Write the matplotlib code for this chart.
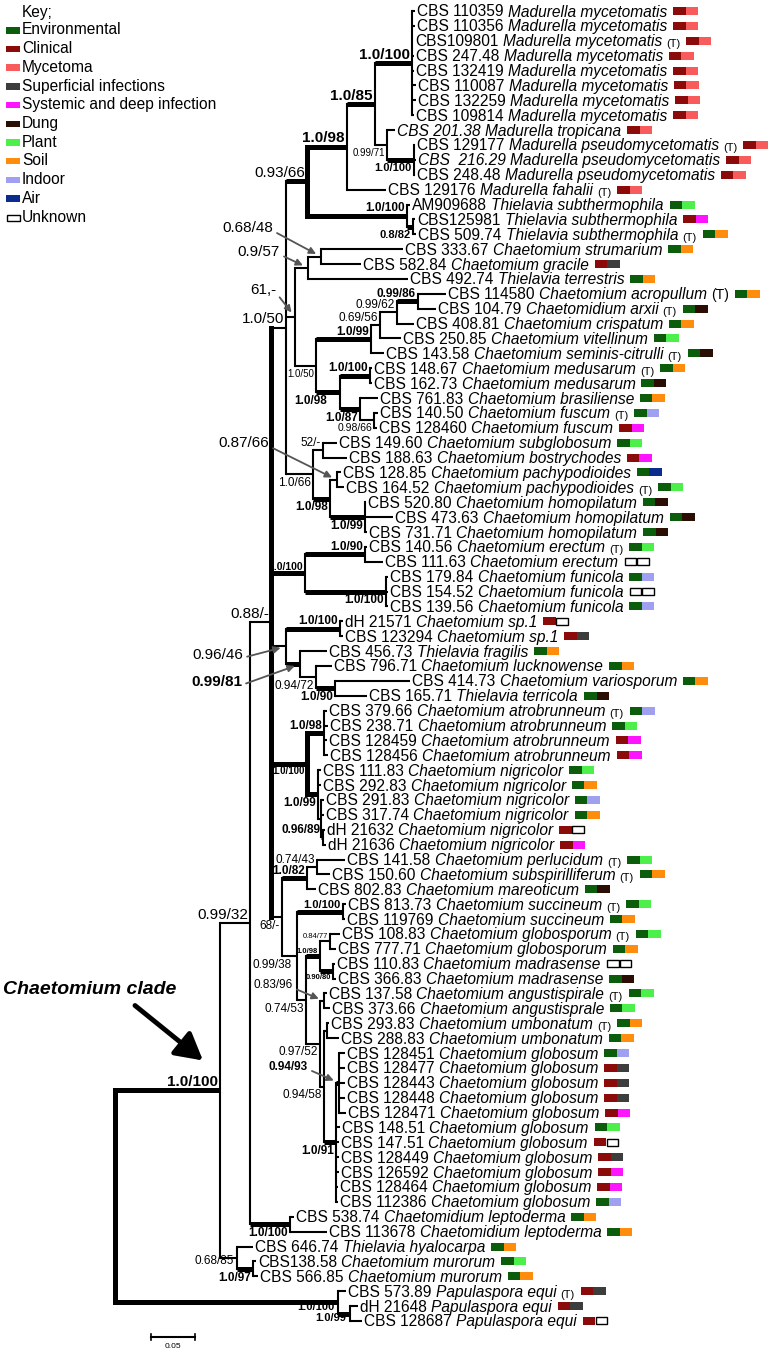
import matplotlib
matplotlib.use('Agg')
import matplotlib.pyplot as plt
from matplotlib.patches import Rectangle

plt.rcParams['font.family'] = ['Liberation Sans', 'DejaVu Sans']

W, H, DPI = 777, 1352, 100

# ------------------------------------------------------------------ DATA
# internal clades (name, parent, branch length in subst./site, support, strong support)
clade_name = ['R', 'Chaet', 'N9932', 'N088', 'N150', 'N9366', 'Mad', 'N185', 'Myc', 'N9971', 'Pseudo',
              'Tsub', 'N882', 'N61', 'N957', 'N6848', 'N150s', 'N199', 'N6956', 'N9962', 'N9986',
              'N198b', 'N1100m', 'N187', 'N9866', 'N166', 'N52', 'N198c', 'Npachy', 'N199h',
              'N1100ef', 'N190', 'N1100f', 'N9646', 'N1100sp', 'N9981', 'N9472', 'N190t',
              'N1100an', 'N198a', 'N199n', 'Nnsub', 'N9689', 'N68', 'N182', 'N7443', 'N9938',
              'N1100s', 'N7453', 'N198g', 'N8477', 'N9080', 'N9752', 'N8396', 'N9458', 'Numb',
              'N191', 'N9493', 'N1100l', 'N6885', 'N197', 'Pap', 'N199p']
clade_parent = [None, 'R', 'Chaet', 'N9932', 'N088', 'N150', 'N9366', 'Mad', 'N185', 'N185', 'N9971',
                'N9366', 'Tsub', 'N150', 'N61', 'N957', 'N61', 'N150s', 'N199', 'N6956', 'N9962',
                'N150s', 'N198b', 'N198b', 'N187', 'N150', 'N166', 'N166', 'N198c', 'N198c',
                'N088', 'N1100ef', 'N1100ef', 'N088', 'N9646', 'N9646', 'N9981', 'N9472',
                'N088', 'N1100an', 'N1100an', 'N199n', 'Nnsub', 'N088', 'N68', 'N182', 'N68',
                'N9938', 'N9938', 'N7453', 'N198g', 'N198g', 'N7453', 'N9752', 'N9752', 'N9458',
                'N9458', 'N191', 'N9932', 'Chaet', 'N6885', 'R', 'Pap']
clade_length = [0.0, 0.1193, 0.0341, 0.0239, 0.0170, 0.0239, 0.0455, 0.0318, 0.0420, 0.0136, 0.0307,
                0.1136, 0.0068, 0.0102, 0.0148, 0.0148, 0.0239, 0.0625, 0.0102, 0.0193, 0.0239,
                0.0273, 0.0341, 0.0227, 0.0159, 0.0307, 0.0114, 0.0193, 0.0080, 0.0398,
                0.0386, 0.0682, 0.0920, 0.0170, 0.0614, 0.0159, 0.0182, 0.0216,
                0.0409, 0.0193, 0.0125, 0.0034, 0.0023, 0.0125, 0.0284, 0.0114, 0.0170,
                0.0523, 0.0102, 0.0159, 0.0114, 0.0148, 0.0159, 0.0045, 0.0045, 0.0034,
                0.0136, 0.0034, 0.0455, 0.0193, 0.0182, 0.2534, 0.0136]
clade_support = ['', '1.0/100', '0.99/32', '0.88/-', '1.0/50', '0.93/66', '1.0/98', '1.0/85', '1.0/100',
                 '0.99/71', '1.0/100', '1.0/100', '0.8/82', '61,-', '0.9/57', '0.68/48', '1.0/50',
                 '1.0/99', '0.69/56', '0.99/62', '0.99/86', '1.0/98', '1.0/100', '1.0/87', '0.98/66',
                 '1.0/66', '52/-', '1.0/98', '0.87/66', '1.0/99', '1.0/100', '1.0/90', '1.0/100',
                 '0.96/46', '1.0/100', '0.99/81', '0.94/72', '1.0/90', '1.0/100', '1.0/98', '1.0/99',
                 '', '0.96/89', '68/-', '1.0/82', '0.74/43', '0.99/38', '1.0/100', '0.74/53',
                 '1.0/98', '0.84/77', '0.90/80', '0.97/52', '0.83/96', '0.94/58', '', '1.0/91',
                 '0.94/93', '1.0/100', '0.68/85', '1.0/97', '1.0/100', '1.0/99']
clade_strong = [0, 1, 0, 0, 0, 0, 1, 1, 1, 0, 1, 1, 1, 0, 0, 0, 0, 1, 0, 0, 1, 1, 1, 1, 0, 0, 0, 1, 0, 1,
                1, 1, 1, 0, 1, 1, 0, 1, 1, 1, 1, 0, 1, 0, 1, 0, 0, 1, 0, 1, 0, 1, 0, 0, 0, 0, 1, 1,
                1, 0, 1, 1, 1]

# leaves, top to bottom
leaf_strain = ['CBS 110359', 'CBS 110356', 'CBS109801', 'CBS 247.48', 'CBS 132419', 'CBS 110087',
               'CBS 132259', 'CBS 109814', 'CBS 201.38', 'CBS 129177', 'CBS  216.29', 'CBS 248.48',
               'CBS 129176', 'AM909688', 'CBS125981', 'CBS 509.74', 'CBS 333.67', 'CBS 582.84',
               'CBS 492.74', 'CBS 114580', 'CBS 104.79', 'CBS 408.81', 'CBS 250.85', 'CBS 143.58',
               'CBS 148.67', 'CBS 162.73', 'CBS 761.83', 'CBS 140.50', 'CBS 128460', 'CBS 149.60',
               'CBS 188.63', 'CBS 128.85', 'CBS 164.52', 'CBS 520.80', 'CBS 473.63', 'CBS 731.71',
               'CBS 140.56', 'CBS 111.63', 'CBS 179.84', 'CBS 154.52', 'CBS 139.56', 'dH 21571',
               'CBS 123294', 'CBS 456.73', 'CBS 796.71', 'CBS 414.73', 'CBS 165.71', 'CBS 379.66',
               'CBS 238.71', 'CBS 128459', 'CBS 128456', 'CBS 111.83', 'CBS 292.83', 'CBS 291.83',
               'CBS 317.74', 'dH 21632', 'dH 21636', 'CBS 141.58', 'CBS 150.60', 'CBS 802.83',
               'CBS 813.73', 'CBS 119769', 'CBS 108.83', 'CBS 777.71', 'CBS 110.83', 'CBS 366.83',
               'CBS 137.58', 'CBS 373.66', 'CBS 293.83', 'CBS 288.83', 'CBS 128451', 'CBS 128477',
               'CBS 128443', 'CBS 128448', 'CBS 128471', 'CBS 148.51', 'CBS 147.51', 'CBS 128449',
               'CBS 126592', 'CBS 128464', 'CBS 112386', 'CBS 538.74', 'CBS 113678', 'CBS 646.74',
               'CBS138.58', 'CBS 566.85', 'CBS 573.89', 'dH 21648', 'CBS 128687']
_mm, _mp, _ts = 'Madurella mycetomatis', 'Madurella pseudomycetomatis', 'Thielavia subthermophila'
_cg = 'Chaetomium globosum'
leaf_species = [_mm] * 8 + ['Madurella tropicana', _mp, _mp, _mp, 'Madurella fahalii', _ts, _ts, _ts,
                'Chaetomium strumarium', 'Chaetomium gracile', 'Thielavia terrestris',
                'Chaetomium acropullum', 'Chaetomidium arxii', 'Chaetomium crispatum',
                'Chaetomium vitellinum', 'Chaetomium seminis-citrulli', 'Chaetomium medusarum',
                'Chaetomium medusarum', 'Chaetomium brasiliense', 'Chaetomium fuscum',
                'Chaetomium fuscum', 'Chaetomium subglobosum', 'Chaetomium bostrychodes',
                'Chaetomium pachypodioides', 'Chaetomium pachypodioides'] + \
               ['Chaetomium homopilatum'] * 3 + ['Chaetomium erectum'] * 2 + ['Chaetomium funicola'] * 3 + \
               ['Chaetomium sp.1', 'Chaetomium sp.1', 'Thielavia fragilis', 'Chaetomium lucknowense',
                'Chaetomium variosporum', 'Thielavia terricola'] + ['Chaetomium atrobrunneum'] * 4 + \
               ['Chaetomium nigricolor'] * 6 + \
               ['Chaetomium perlucidum', 'Chaetomium subspirilliferum', 'Chaetomium mareoticum',
                'Chaetomium succineum', 'Chaetomium succineum', 'Chaetomium globosporum',
                'Chaetomium globosporum', 'Chaetomium madrasense', 'Chaetomium madrasense',
                'Chaetomium angustispirale', 'Chaetomium angustisprale', 'Chaetomium umbonatum',
                'Chaetomium umbonatum'] + [_cg] * 11 + \
               ['Chaetomidium leptoderma', 'Chaetomidium leptoderma', 'Thielavia hyalocarpa',
                'Chaetomium murorum', 'Chaetomium murorum'] + ['Papulaspora equi'] * 3
leaf_type_strain = [3, 10, 13, 16, 20, 21, 24, 25, 28, 33, 37, 48, 58, 59, 61, 63, 67, 69, 87]  # 1-based rows
leaf_parent = ['Myc'] * 8 + ['N9971', 'Pseudo', 'Pseudo', 'Pseudo', 'Mad', 'Tsub', 'N882', 'N882',
               'N6848', 'N6848', 'N957', 'N9986', 'N9986', 'N9962', 'N6956', 'N199', 'N1100m',
               'N1100m', 'N187', 'N9866', 'N9866', 'N52', 'N52', 'Npachy', 'Npachy', 'N199h',
               'N199h', 'N199h', 'N190', 'N190', 'N1100f', 'N1100f', 'N1100f', 'N1100sp',
               'N1100sp', 'N9981', 'N9472', 'N190t', 'N190t', 'N198a', 'N198a', 'N198a', 'N198a',
               'N199n', 'N199n', 'Nnsub', 'Nnsub', 'N9689', 'N9689', 'N7443', 'N7443', 'N182',
               'N1100s', 'N1100s', 'N8477', 'N8477', 'N9080', 'N9080', 'N8396', 'N8396', 'Numb',
               'Numb'] + ['N9493'] * 5 + ['N191'] * 6 + \
              ['N1100l', 'N1100l', 'N6885', 'N197', 'N197', 'Pap', 'N199p', 'N199p']
leaf_length = [0.0034, 0.0034, 0.0011, 0.0023, 0.0023, 0.0045, 0.0045, 0.0023, 0.0091, 0.0011,
               0.0023, 0.0011, 0.0443, 0.0034, 0.0023, 0.0034, 0.0932, 0.0455, 0.1136, 0.0318,
               0.0205, 0.0193, 0.0239, 0.0148, 0.0023, 0.0023, 0.0205, 0.0045, 0.0034, 0.0159,
               0.0273, 0.0045, 0.0080, 0.0011, 0.0318, 0.0023, 0.0023, 0.0205, 0.0023, 0.0023,
               0.0023, 0.0034, 0.0034, 0.0307, 0.0182, 0.0852, 0.0364, 0.0034, 0.0045, 0.0034,
               0.0045, 0.0034, 0.0034, 0.0034, 0.0034, 0.0023, 0.0034, 0.0318, 0.0148, 0.0102,
               0.0034, 0.0023, 0.0114, 0.0068, 0.0023, 0.0034, 0.0034, 0.0068, 0.0023, 0.0136,
               0.0068, 0.0068, 0.0068, 0.0068, 0.0080, 0.0045, 0.0034, 0.0034, 0.0034, 0.0023,
               0.0023, 0.0045, 0.0420, 0.0182, 0.0034, 0.0057, 0.0091, 0.0091, 0.0136]
leaf_source_a = ['C'] * 13 + ['E', 'C', 'E', 'E', 'C', 'E', 'E', 'E', 'E', 'E', 'E', 'E', 'E', 'E',
                 'E', 'C', 'E', 'C', 'E', 'E', 'E', 'E', 'E', 'E', 'U', 'E', 'U', 'E', 'C', 'C',
                 'E', 'E', 'E', 'E', 'E', 'E', 'C', 'C', 'E', 'E', 'E', 'E', 'C', 'C', 'E', 'E',
                 'E', 'E', 'E', 'E', 'E', 'U', 'E', 'E', 'E', 'E', 'E', 'E', 'C', 'C', 'C', 'C',
                 'E', 'C', 'C', 'C', 'C', 'E', 'E', 'E', 'E', 'E', 'E', 'C', 'C', 'C']
leaf_source_b = ['M'] * 13 + ['P', 'SD', 'So', 'So', 'S', 'So', 'So', 'D', 'So', 'P', 'D', 'So',
                 'D', 'So', 'I', 'SD', 'P', 'SD', 'A', 'P', 'D', 'D', 'D', 'P', 'U', 'I', 'U', 'I',
                 'U', 'S', 'So', 'So', 'So', 'D', 'I', 'P', 'SD', 'SD', 'P', 'So', 'I', 'So', 'U',
                 'SD', 'P', 'So', 'D', 'P', 'So', 'P', 'So', 'U', 'D', 'P', 'P', 'So', 'So', 'I',
                 'S', 'S', 'S', 'SD', 'P', 'U', 'S', 'SD', 'SD', 'I', 'So', 'So', 'So', 'P', 'So',
                 'S', 'S', 'U']

source_code = ['E', 'C', 'M', 'S', 'SD', 'D', 'P', 'So', 'I', 'A', 'U']
source_label = ['Environmental', 'Clinical', 'Mycetoma', 'Superficial infections',
                'Systemic and deep infection', 'Dung', 'Plant', 'Soil', 'Indoor', 'Air', 'Unknown']
scale_value = 0.05

# ------------------------------------------------------------------ STYLE
source_color = {'E': '#0b5c0b', 'C': '#8b0a0a', 'M': '#f75b5b', 'S': '#3d3d3d', 'SD': '#ff14ff',
                'D': '#2b0d04', 'P': '#4df04a', 'So': '#ff8c0c', 'I': '#a0a0f0', 'A': '#0b2c8c',
                'U': '#ffffff'}
label_place = {
    'Chaet': 'A', 'N9932': 'A', 'N088': 'A', 'N150': 'A', 'N9366': 'A', 'Mad': 'A', 'N185': 'A',
    'Myc': 'A', 'N9971': 'B', 'Pseudo': 'B', 'Tsub': 'A', 'N882': 'B',
    'N61': (-19, -27), 'N957': (-28, -16), 'N6848': (-48, -28.5),
    'N150s': 'B', 'N199': 'A', 'N6956': 'A', 'N9962': 'A', 'N9986': 'A', 'N198b': 'B',
    'N1100m': 'A', 'N187': 'B', 'N9866': 'B', 'N166': 'B', 'N52': 'A', 'N198c': 'B',
    'Npachy': (-68, -36.5), 'N199h': 'B', 'N1100ef': 'A', 'N190': 'A', 'N1100f': 'B',
    'N9646': (-43, 8.5), 'N1100sp': 'A', 'N9981': (-58, 18), 'N9472': 'B', 'N190t': 'B',
    'N1100an': 'B', 'N198a': 'A', 'N199n': 'B', 'N9689': 'A', 'N68': 'B', 'N182': 'A',
    'N7443': 'A', 'N9938': 'B', 'N1100s': 'A', 'N7453': 'B', 'N198g': 'A', 'N8477': 'A',
    'N9080': 'B', 'N9752': 'B', 'N8396': (-31, -15.5), 'N9458': 'B', 'N191': 'B',
    'N9493': (-31, -16), 'N1100l': 'B', 'N6885': 'L', 'N197': 'B', 'Pap': 'B', 'N199p': 'L'}
label_extra_dx = {'N198b': -11, 'N9938': -3, 'Pap': -1}
label_extra_dy = {'Pap': -3.5, 'N199p': 1.5}
big = ['Chaet', 'N9932', 'N088', 'N150', 'N9366', 'Mad', 'N185', 'Myc', 'N61', 'N957', 'N6848',
       'Npachy', 'N9646', 'N9981']
label_size = {n: 11 for n in big}
label_size.update({'N9971': 7, 'N150s': 7, 'N9866': 7.5, 'Pseudo': 8, 'N882': 8,
                   'N198g': 5.5, 'N8477': 5.5, 'N9080': 5.5, 'N1100an': 7, 'N1100ef': 7.5,
                   'N1100s': 8, 'Pap': 8, 'N199p': 8})
thick_extra = {'N9366'}
thick_vertical = {'R', 'N088', 'N9366', 'N1100an'}
strain_italic = {8, 10}  # 0-based rows
LEAF_FS = 11.2

PX_PER_UNIT = 880.0
ROOT_PX, TOP_PX, ROW_PX = 115.0, 11.0, 14.886
PT = 72.0 / DPI
LW_THIN, LW_THICK = 1.5, 3.6

fig = plt.figure(figsize=(W / DPI, H / DPI), dpi=DPI)
ax = fig.add_axes([0, 0, 1, 1])
ax.axis('off')
ax.set_xlim(-ROOT_PX / PX_PER_UNIT, (W - ROOT_PX) / PX_PER_UNIT)
ax.set_ylim((H - TOP_PX) / ROW_PX, -TOP_PX / ROW_PX)
ax2 = fig.add_axes([0, 0, 1, 1])
ax2.axis('off')
ax2.set_xlim(0, W)
ax2.set_ylim(H, 0)

# ------------------------------------------------------------------ layout of tree
cidx = {n: k for k, n in enumerate(clade_name)}
children = {n: [] for n in clade_name}
for n, p in zip(clade_name, clade_parent):
    if p is not None:
        children[p].append(('c', n))
for i, p in enumerate(leaf_parent):
    children[p].append(('l', i))

depth = {}


def set_depth(n, d):
    depth[n] = d
    for kind, c in children[n]:
        if kind == 'c':
            set_depth(c, d + clade_length[cidx[c]])


set_depth('R', 0.0)
leaf_x = [depth[p] + l for p, l in zip(leaf_parent, leaf_length)]

node_y, node_span = {}, {}


def get_y(n):
    ys = [get_y(c) if kind == 'c' else c for kind, c in children[n]]
    node_span[n] = (min(ys), max(ys))
    node_y[n] = (min(ys) + max(ys)) / 2.0
    return node_y[n]


get_y('R')

# branches
for n in clade_name:
    k = cidx[n]
    p = clade_parent[k]
    if p is not None:
        lw = LW_THICK if (clade_strong[k] or n in thick_extra) else LW_THIN
        ax.plot([depth[p], depth[n]], [node_y[n], node_y[n]], color='black', lw=lw,
                solid_capstyle='butt')
    lo, hi = node_span[n]
    lwv = LW_THICK if n in thick_vertical else LW_THIN
    ax.plot([depth[n], depth[n]], [lo, hi], color='black', lw=lwv, solid_capstyle='projecting')
for i, p in enumerate(leaf_parent):
    ax.plot([depth[p], leaf_x[i]], [i, i], color='black', lw=LW_THIN, solid_capstyle='butt')

# support labels
for n in clade_name:
    k = cidx[n]
    s = clade_support[k]
    if not s:
        continue
    fw = 'bold' if clade_strong[k] else 'normal'
    fs = label_size.get(n, 8.5)
    pl = label_place[n]
    ex = label_extra_dx.get(n, 0) * PT
    ey = -label_extra_dy.get(n, 0) * PT
    xy = (depth[n], node_y[n])
    if pl == 'A':
        ax.annotate(s, xy=xy, xytext=(-1.5 + ex, 1.0 + ey), textcoords='offset points', ha='right',
                    va='bottom', fontsize=fs, fontweight=fw)
    elif pl == 'B':
        ax.annotate(s, xy=xy, xytext=(-1.5 + ex, -2.0 + ey), textcoords='offset points', ha='right',
                    va='top', fontsize=fs, fontweight=fw)
    elif pl == 'L':
        ax.annotate(s, xy=xy, xytext=(-2.5 + ex, -2.5 + ey), textcoords='offset points', ha='right',
                    va='center', fontsize=fs, fontweight=fw)
    else:
        dx, dy = pl
        ax.annotate(s, xy=xy, xytext=(dx * PT, -dy * PT), textcoords='offset points', ha='right',
                    va='center', fontsize=fs, fontweight=fw,
                    arrowprops=dict(arrowstyle='-|>', color='#555555', lw=1.3, mutation_scale=10,
                                    shrinkA=1, shrinkB=4, relpos=(1.0, 0.3)))

# leaf labels
last_text = []
for i in range(len(leaf_strain)):
    st = 'italic' if i in strain_italic else 'normal'
    t1 = ax.annotate(leaf_strain[i], xy=(leaf_x[i], i), xytext=(2 * PT, -5.5 * PT),
                     textcoords='offset points', ha='left', va='baseline', fontsize=LEAF_FS,
                     fontstyle=st)
    t2 = ax.annotate(leaf_species[i], xy=(1, 0), xycoords=t1, xytext=(4.3 * PT, 0),
                     textcoords='offset points', ha='left', va='bottom', fontsize=LEAF_FS,
                     fontstyle='italic')
    last = t2
    if (i + 1) in leaf_type_strain:
        tfs = 10 if i == 19 else 8
        last = ax.annotate('(T)', xy=(1, 0), xycoords=t2, xytext=(4.3 * PT, 0),
                           textcoords='offset points', ha='left', va='bottom', fontsize=tfs)
    last_text.append(last)

fig.canvas.draw()
renderer = fig.canvas.get_renderer()
BW, BH = 12.5, 8.0
for i, t in enumerate(last_text):
    bb = t.get_window_extent(renderer)
    yc = H - ax.transData.transform((0, i))[1]
    x0 = bb.x1 + 6
    for j, code in enumerate([leaf_source_a[i], leaf_source_b[i]]):
        if code == 'U':
            ax2.add_patch(Rectangle((x0 + j * BW + 0.5, yc - BH / 2 + 0.5), BW - 1, BH - 1,
                                    facecolor='white', edgecolor='black', lw=1.0))
        else:
            ax2.add_patch(Rectangle((x0 + j * BW, yc - BH / 2), BW, BH,
                                    facecolor=source_color[code], edgecolor='none'))

# legend (key)
ax2.text(22, 13, 'Key;', fontsize=11.2, va='center', ha='left')
for k, (code, lab) in enumerate(zip(source_code, source_label)):
    y = 30 + 18.7 * k
    if code == 'U':
        ax2.add_patch(Rectangle((6.5, y - 2.5), 13, 6, facecolor='white', edgecolor='black', lw=1.0))
    else:
        ax2.add_patch(Rectangle((6, y - 3), 14, 6.5, facecolor=source_color[code], edgecolor='none'))
    ax2.text(22, y, lab, fontsize=11.2, va='center', ha='left')

# clade annotation
nx, ny = ax.transData.transform((depth['Chaet'], node_y['Chaet']))
ny = H - ny
ax2.text(3, 990, 'Chaetomium clade', fontsize=14, fontweight='bold', fontstyle='italic',
         va='center', ha='left')
ax2.annotate('', xy=(nx - 17, ny - 30), xytext=(nx - 85, ny - 85),
             arrowprops=dict(arrowstyle='-|>,head_length=0.9,head_width=0.5', lw=3.5,
                             color='black', mutation_scale=18, shrinkA=0, shrinkB=0))

# scale bar
sb_len = ax.transData.transform((scale_value, 0))[0] - ax.transData.transform((0, 0))[0]
sx, sy = 151, 1337
ax2.plot([sx, sx + sb_len], [sy, sy], color='black', lw=1.5)
ax2.plot([sx, sx], [sy - 3, sy + 3], color='black', lw=1.2)
ax2.plot([sx + sb_len, sx + sb_len], [sy - 3, sy + 3], color='black', lw=1.2)
ax2.text(sx + sb_len / 2, sy + 9, '%.2f' % scale_value, fontsize=6, ha='center', va='center')

fig.savefig('out.png', dpi=DPI)
